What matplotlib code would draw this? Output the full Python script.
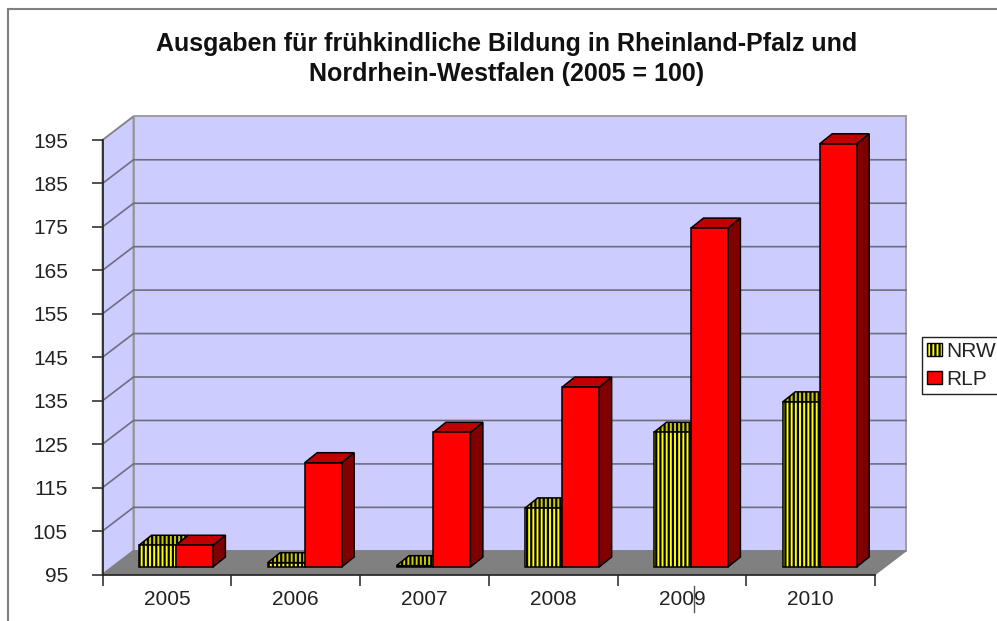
import matplotlib
matplotlib.use("Agg")
import matplotlib.pyplot as plt
from matplotlib.patches import Polygon, Patch
from matplotlib.lines import Line2D

plt.rcParams["font.family"] = ["Liberation Sans", "DejaVu Sans"]
plt.rcParams["hatch.linewidth"] = 1.6

years = ["2005", "2006", "2007", "2008", "2009", "2010"]
nrw = [100, 96, 95.3, 108.6, 126, 133]
rlp = [100, 119, 126, 136.4, 173, 192.4]
yticks = [95, 105, 115, 125, 135, 145, 155, 165, 175, 185, 195]
title = "Ausgaben für frühkindliche Bildung in Rheinland-Pfalz und\nNordrhein-Westfalen (2005 = 100)"

# fake 3d: everything lives in front-plane data coords plus a depth shift
floor_dx, floor_dy = 0.241, 5.45
bar_dx, bar_dy = 0.097, 2.3
lift_dx, lift_dy = 0.2835, 1.73
bar_w = 0.287
ymin, ymax = 95, 195
wall = "#ccccff"
edge = "#808080"
text_c = "#222222"

fig = plt.figure(figsize=(9.97, 6.21), dpi=100)
ax = fig.add_axes([102.5 / 997, 46.5 / 621, 772.5 / 997, 434.5 / 621])
ax.set_xlim(0, 6)
ax.set_ylim(ymin, ymax)
for s in ["top", "right"]:
    ax.spines[s].set_visible(False)
ax.patch.set_visible(False)


def poly(pts, **kw):
    ax.add_patch(Polygon(pts, closed=True, clip_on=False, **kw))


def bar3d(x, val, color, top_c, side_c, hatch=None):
    base = ymin + lift_dy
    top = val + lift_dy
    r = x + bar_w
    lw = 1.1
    poly([(r, base), (r + bar_dx, base + bar_dy), (r + bar_dx, top + bar_dy), (r, top)],
         facecolor=side_c, edgecolor="black", lw=lw, zorder=5)
    poly([(x, top), (r, top), (r + bar_dx, top + bar_dy), (x + bar_dx, top + bar_dy)],
         facecolor=top_c, edgecolor="black", lw=lw, hatch=hatch, zorder=5)
    poly([(x, base), (r, base), (r, top), (x, top)],
         facecolor=color, edgecolor="black", lw=lw, hatch=hatch, zorder=5)


# walls and floor
poly([(0, ymin), (floor_dx, ymin + floor_dy), (floor_dx, ymax + floor_dy), (0, ymax)],
     facecolor=wall, edgecolor=edge, lw=1.3, zorder=1)
poly([(floor_dx, ymin + floor_dy), (6 + floor_dx, ymin + floor_dy),
      (6 + floor_dx, ymax + floor_dy), (floor_dx, ymax + floor_dy)],
     facecolor=wall, edgecolor="#999999", lw=1.3, zorder=1)
poly([(0, ymin), (6, ymin), (6 + floor_dx, ymin + floor_dy), (floor_dx, ymin + floor_dy)],
     facecolor=edge, edgecolor=edge, lw=1, zorder=2)

# gridlines, back wall and side wall
for v in yticks[1:-1]:
    ax.plot([0, floor_dx, 6 + floor_dx], [v, v + floor_dy, v + floor_dy],
            color="#6e6e80", lw=1.2, clip_on=False, zorder=3)

for i in range(len(years)):
    bar3d(i + lift_dx, nrw[i], "#ffff00", "#cccc00", "#808000", hatch="||||")
    bar3d(i + lift_dx + bar_w, rlp[i], "#ff0000", "#c00000", "#800000")

# axes
ax.set_yticks(yticks)
ax.set_xticks(range(len(years) + 1))
ax.set_xticklabels([])
ax.set_xticks([i + 0.5 for i in range(len(years))], years, minor=True)
ax.tick_params(axis="y", length=8, width=1.1, color="#222222", labelcolor=text_c,
               labelsize=15, pad=17)
ax.tick_params(axis="x", which="major", length=8, width=1.1, color="#222222",
               direction="out")
ax.tick_params(axis="x", which="minor", length=0, labelsize=15, labelcolor=text_c, pad=11)
for s in ["left", "bottom"]:
    ax.spines[s].set_linewidth(1.2)
    ax.spines[s].set_color("#222222")
    ax.spines[s].set_zorder(6)

fig.text(507 / 997, 1 - 59 / 621, title, ha="center", va="center", fontsize=18,
         fontweight="bold", color="#111111", linespacing=1.3)

# legend, runs up to the right edge like the source screenshot
handles = [Patch(facecolor="#ffff00", edgecolor="black", hatch="||||", label="NRW"),
           Patch(facecolor="#ff0000", edgecolor="black", label="RLP")]
fig.legend(handles=handles, loc="upper left", bbox_to_anchor=(922 / 997, 1 - 337 / 621),
           frameon=True, fancybox=False, edgecolor="#222222", framealpha=1, fontsize=15,
           handlelength=0.7, handleheight=0.58, handletextpad=0.2, labelspacing=0.42,
           borderpad=0.25, borderaxespad=0, labelcolor=text_c)

# chart frame and stray line from the screenshot
fig.add_artist(Line2D([8 / 997, 8 / 997], [0, 1 - 9 / 621], color="#808080", lw=1.5))
fig.add_artist(Line2D([8 / 997, 1], [1 - 9 / 621, 1 - 9 / 621], color="#808080", lw=1.5))
fig.add_artist(Line2D([694 / 997, 694 / 997], [1 - 612 / 621, 1 - 586 / 621], color="#555555", lw=1))

fig.savefig("out.png", dpi=100, facecolor="white")
